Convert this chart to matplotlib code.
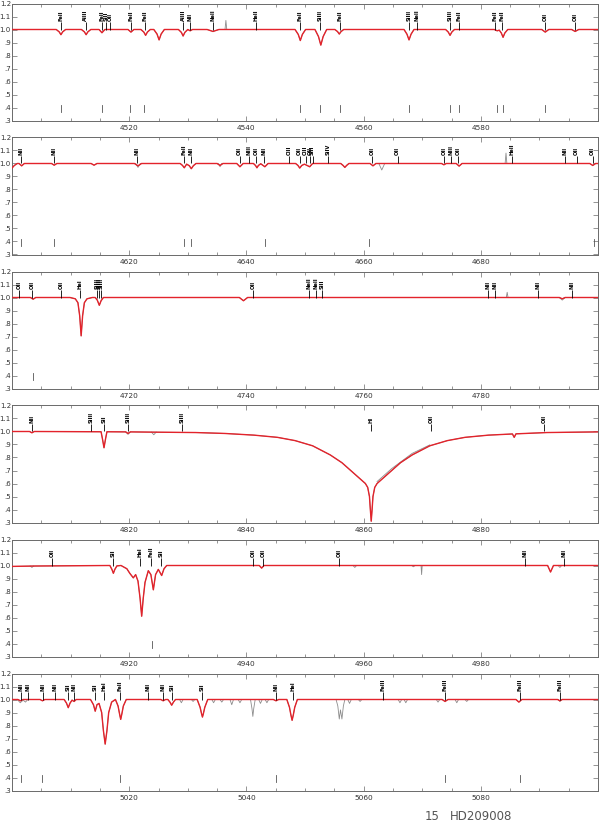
import numpy as np
import matplotlib
matplotlib.use('Agg')
import matplotlib.pyplot as plt
from matplotlib.ticker import MultipleLocator, FixedLocator, FixedFormatter

nan = np.nan

# ---------------- data ----------------
panel_ranges = [(4500, 4600), (4600, 4700), (4700, 4800),
                (4800, 4900), (4900, 5000), (5000, 5100)]

ytick_values = [0.3, 0.4, 0.5, 0.6, 0.7, 0.8, 0.9, 1.0, 1.1, 1.2]
ytick_labels = ['.3', '.4', '.5', '.6', '.7', '.8', '.9', '1.0', '1.1', '1.2']

# panel 1 : model spectrum (red)
p1_wave = [4500, 4507.55, 4508.05, 4508.35, 4508.65, 4509.15,
           4511.85, 4512.35, 4512.65, 4512.95, 4513.45,
           4514.85, 4515.35, 4515.85, 4519.8, 4520.3, 4520.8,
           4522.0, 4522.5, 4522.8, 4523.1, 4523.6,
           4524.2, 4524.75, 4525.1, 4525.45, 4526.0,
           4528.4, 4528.9, 4529.2, 4529.5, 4530.0, 4530.4, 4530.8,
           4533.3, 4534.3, 4535.3,
           4548.3, 4548.85, 4549.2, 4549.55, 4550.1,
           4551.7, 4552.3, 4552.7, 4553.1, 4553.7,
           4555.1, 4555.55, 4555.85, 4556.15, 4556.6,
           4566.9, 4567.4, 4567.75, 4568.1, 4568.6,
           4574.0, 4574.45, 4574.75, 4575.05, 4575.5,
           4582.3, 4582.8, 4583.15, 4583.5, 4583.8, 4584.1, 4584.6,
           4590.4, 4591.0, 4591.6, 4595.5, 4596.1, 4596.7, 4600]
p1_flux = [1.0, 1.0, 0.982, 0.96, 0.982, 1.0,
           1.0, 0.982, 0.96, 0.982, 1.0,
           1.0, 0.975, 1.0, 1.0, 0.98, 1.0,
           1.0, 0.98, 0.955, 0.98, 1.0,
           1.0, 0.965, 0.92, 0.965, 1.0,
           1.0, 0.978, 0.95, 0.978, 1.0, 0.99, 1.0,
           1.0, 0.985, 1.0,
           1.0, 0.962, 0.915, 0.962, 1.0,
           1.0, 0.946, 0.88, 0.946, 1.0,
           1.0, 0.984, 0.965, 0.984, 1.0,
           1.0, 0.964, 0.92, 0.964, 1.0,
           1.0, 0.98, 0.955, 0.98, 1.0,
           1.0, 0.99, 0.995, 0.973, 0.94, 0.973, 1.0,
           1.0, 0.98, 1.0, 1.0, 0.985, 1.0, 1.0]
# panel 1 : observed spectrum where it departs from the model (grey)
p1_obs_wave = [4536.35, 4536.5, 4536.65]
p1_obs_flux = [1.0, 1.07, 1.0]
p1_line_wave = [4508.29, 4512.57, 4515.34, 4516.0, 4516.7, 4520.23, 4522.63,
                4529.19, 4530.41, 4534.3, 4541.59, 4549.2, 4552.62, 4555.89,
                4567.82, 4569.1, 4574.76, 4576.33, 4582.5, 4583.6, 4590.97, 4596.1]
p1_line_name = ['FeII', 'AlIII', 'FeII', 'SIII', 'OII', 'FeII', 'FeII',
                'AlIII', 'NII', 'NeII', 'HeII', 'FeII', 'SiIII', 'FeII',
                'SiIII', 'NeII', 'SiIII', 'FeII', 'FeII', 'FeII', 'OII', 'OII']
p1_marks = [4508.3, 4515.3, 4520.2, 4522.6, 4549.2, 4552.6, 4555.9,
            4567.8, 4574.8, 4576.3, 4582.8, 4583.8, 4591.0]

# panel 2
p2_wave = [4600, 4600.4, 4600.9, 4601.2, 4601.65, 4602.1,
           4606.75, 4607.2, 4607.65, 4613.5, 4614.0, 4614.5,
           4620.9, 4621.5, 4622.1,
           4628.7, 4629.1, 4629.4, 4629.8, 4630.25, 4630.6, 4630.95, 4631.4,
           4635.0, 4635.5, 4636.0, 4638.35, 4638.9, 4639.45,
           4641.2, 4641.55, 4641.8, 4642.05, 4642.45, 4643.15, 4643.7,
           4648.4, 4648.8, 4649.1, 4649.45, 4649.9, 4650.8, 4651.3,
           4656.1, 4656.5, 4656.8, 4657.1, 4657.5,
           4661.1, 4661.6, 4662.1, 4673.3, 4673.7, 4674.1,
           4675.8, 4676.3, 4676.8, 4698.6, 4699.1, 4699.6, 4700]
p2_flux = [0.965, 0.985, 1.0, 1.0, 0.982, 1.0,
           1.0, 0.987, 1.0, 1.0, 0.987, 1.0,
           1.0, 0.982, 1.0,
           1.0, 0.985, 0.967, 0.995, 0.983, 0.96, 0.983, 1.0,
           1.0, 0.985, 1.0, 1.0, 0.975, 1.0,
           1.0, 0.985, 0.967, 0.985, 0.998, 0.975, 1.0,
           1.0, 0.985, 0.965, 0.985, 0.995, 0.975, 1.0,
           1.0, 0.985, 0.97, 0.985, 1.0,
           1.0, 0.982, 1.0, 1.0, 0.99, 1.0,
           1.0, 0.98, 1.0, 1.0, 0.985, 1.0, 1.0]
p2_obs_wave = [4621.1, 4621.5, 4621.9, nan, 4635.25, 4635.5, 4635.75, nan,
               4662.6, 4663.1, 4663.6, nan, 4684.15, 4684.3, 4684.45]
p2_obs_flux = [1.0, 0.97, 1.0, nan, 1.0, 0.975, 1.0, nan,
               1.0, 0.95, 1.0, nan, 1.0, 1.08, 1.0]
p2_line_wave = [4601.48, 4607.15, 4621.39, 4629.34, 4630.54, 4638.86, 4640.4,
                4641.6, 4643.0, 4647.3, 4649.1, 4650.1, 4650.9, 4651.3, 4654.0,
                4661.4, 4665.8, 4673.73, 4674.98, 4676.1, 4685.4, 4694.4,
                4696.35, 4699.1]
p2_line_name = ['NII', 'NII', 'NII', 'FeII', 'NII', 'OII', 'NIII',
                'OII', 'NII', 'CIII', 'OII', 'CIII', 'OII', 'SIII', 'SiIV',
                'OII', 'OII', 'OII', 'NIII', 'OII', 'HeII', 'NII',
                'OII', 'OII']
p2_marks = [4601.5, 4607.2, 4629.3, 4630.5, 4643.1, 4661.0, 4699.3]

# panel 3
p3_wave = [4700, 4703.15, 4703.6, 4704.05,
           4709.9, 4710.8, 4711.25, 4711.55, 4711.8, 4712.05, 4712.35, 4712.8, 4713.7,
           4714.2, 4714.55, 4714.9, 4715.2, 4715.6,
           4738.8, 4739.5, 4740.2, 4793.4, 4793.9, 4794.4, 4800]
p3_flux = [1.0, 1.0, 0.987, 1.0,
           1.0, 0.99, 0.96, 0.86, 0.705, 0.86, 0.96, 0.99, 1.0,
           1.0, 0.98, 0.94, 0.975, 1.0,
           1.0, 0.975, 1.0, 1.0, 0.99, 1.0, 1.0]
p3_obs_wave = [4784.35, 4784.5, 4784.65, nan, 4793.4, 4793.9, 4794.4]
p3_obs_flux = [1.0, 1.04, 1.0, nan, 1.0, 0.98, 1.0]
p3_line_wave = [4701.2, 4703.4, 4708.4, 4711.6, 4714.56, 4714.9, 4715.25, 4741.2,
                4750.68, 4751.83, 4752.85, 4781.18, 4782.42, 4789.7, 4795.5]
p3_line_name = ['OII', 'OII', 'OII', 'HeI', 'SiIII', 'SiIII', 'SiIII', 'OII',
                'NeII', 'NeII', 'SIII', 'NII', 'NII', 'NII', 'NII']
p3_marks = [4703.6]

# panel 4 (H-beta)
p4_wave = [4800, 4803.0, 4803.4, 4803.8, 4815.2, 4815.45, 4815.7, 4815.95, 4816.2,
           4819.4, 4819.8, 4820.2, 4824, 4831.3, 4836.3, 4841.3, 4845.3, 4848.3,
           4851.3, 4854.3, 4856.3, 4857.8, 4859.3, 4860.3, 4860.7, 4861.0, 4861.15,
           4861.3, 4861.45, 4861.6, 4861.9, 4862.3, 4863.3, 4864.8, 4866.3, 4868.3,
           4871.3, 4874.3, 4877.3, 4881.3, 4885.4, 4885.7, 4886.0, 4891.3, 4900]
p4_flux = [1.0, 1.0, 0.99, 1.0, 0.998, 0.94, 0.875, 0.94, 0.998,
           0.997, 0.985, 0.997, 0.995, 0.992, 0.985, 0.972, 0.955, 0.93,
           0.89, 0.82, 0.76, 0.70, 0.64, 0.60, 0.57, 0.50, 0.40,
           0.31, 0.40, 0.50, 0.57, 0.60, 0.64, 0.70, 0.76, 0.82,
           0.89, 0.93, 0.955, 0.972, 0.981, 0.955, 0.982, 0.992, 0.997]
p4_obs_wave = [4823.8, 4824.2, 4824.6, nan, 4819.4, 4819.8, 4820.2, nan,
               4862.3, 4864.8, 4868.3, 4871.3]
p4_obs_flux = [0.995, 0.975, 0.995, nan, 0.997, 0.978, 0.997, nan,
               0.615, 0.715, 0.832, 0.897]
p4_line_wave = [4803.36, 4813.43, 4815.7, 4819.85, 4828.96, 4861.26, 4871.5, 4890.8]
p4_line_name = ['NII', 'SiIII', 'SII', 'SiIII', 'SiIII', 'HI', 'OII', 'OII']
p4_marks = []

# panel 5
p5_wave = [4900, 4904, 4910, 4916.7, 4917.05, 4917.3, 4917.55, 4917.9,
           4918.6, 4919.6, 4920.1, 4920.7, 4921.1, 4921.5, 4921.85, 4922.13,
           4922.4, 4922.7, 4923.26, 4923.7, 4924.12, 4924.5, 4924.97, 4925.54,
           4925.94, 4926.4, 4942.2, 4942.6, 4943.0, 4991.4, 4991.9, 4992.4, 5000]
p5_flux = [0.993, 0.996, 0.998, 1.0, 0.97, 0.94, 0.97, 0.997,
           1.0, 0.975, 0.94, 0.905, 0.93, 0.88, 0.75, 0.61,
           0.75, 0.87, 0.96, 0.93, 0.813, 0.93, 0.97, 0.923,
           0.975, 1.0, 1.0, 0.98, 1.0, 1.0, 0.95, 1.0, 1.0]
p5_obs_wave = [4903.1, 4903.4, 4903.7, nan, 4958.2, 4958.5, 4958.8, nan,
               4968.2, 4968.5, 4968.8, nan, 4969.8, 4969.9, 4970.0, nan,
               4993.2, 4993.5, 4993.8]
p5_obs_flux = [0.996, 0.985, 0.996, nan, 1.0, 0.985, 1.0, nan,
               1.0, 0.99, 1.0, nan, 1.0, 0.93, 1.0, nan,
               1.0, 0.985, 1.0]
p5_line_wave = [4906.9, 4917.2, 4921.8, 4923.8, 4925.4, 4941.2, 4942.9,
                4955.8, 4987.5, 4994.25]
p5_line_name = ['OII', 'SII', 'HeI', 'FeII', 'SII', 'OII', 'OII',
                'OII', 'NII', 'NII']
p5_marks = [4923.9]

# panel 6
p6_wave = [5000, 5001.0, 5001.45, 5001.9, 5004.8, 5005.2, 5005.6,
           5008.9, 5009.3, 5009.6, 5009.9, 5010.25, 5010.6, 5010.95,
           5013.4, 5013.9, 5014.2, 5014.5, 5014.85, 5015.3, 5015.6, 5015.9,
           5016.2, 5016.5, 5017.0, 5017.65, 5018.1, 5018.35, 5018.55, 5018.75,
           5019.0, 5019.5, 5025.4, 5025.8, 5026.2, 5026.6, 5026.95, 5027.25,
           5027.55, 5027.9, 5031.6, 5032.1, 5032.35, 5032.5, 5032.65, 5032.9,
           5033.4, 5044.6, 5045.05, 5045.5, 5046.9, 5047.35, 5047.6, 5047.8,
           5048.0, 5048.25, 5048.7, 5073.4, 5073.9, 5074.4, 5086.0, 5086.5,
           5087.0, 5093.1, 5093.5, 5093.9, 5100]
p6_flux = [1.0, 1.0, 0.99, 1.0, 1.0, 0.99, 1.0,
           1.0, 0.972, 0.937, 0.972, 0.995, 0.985, 1.0,
           1.0, 0.96, 0.91, 0.96, 0.97, 0.9, 0.76, 0.657,
           0.76, 0.9, 0.98, 1.0, 0.95, 0.89, 0.847, 0.89,
           0.95, 1.0, 1.0, 0.99, 1.0, 1.0, 0.98, 0.956,
           0.98, 1.0, 1.0, 0.94, 0.89, 0.865, 0.89, 0.94,
           1.0, 1.0, 0.99, 1.0, 1.0, 0.94, 0.88, 0.84,
           0.88, 0.94, 1.0, 1.0, 0.985, 1.0, 1.0, 0.98,
           1.0, 1.0, 0.99, 1.0, 1.0]
p6_obs_wave = [5000.9, 5001.4, 5001.9, 5002.3, 5002.7, nan,
               5028.6, 5028.9, 5029.2, nan, 5030.6, 5030.9, 5031.2, nan,
               5034.1, 5034.4, 5034.7, 5035.5, 5035.8, 5036.1, nan,
               5037.2, 5037.5, 5037.8, 5038.6, 5038.9, 5039.2, nan,
               5040.7, 5040.95, 5041.1, 5041.25, 5041.5, nan,
               5042.1, 5042.4, 5042.7, 5043.2, 5043.5, 5043.8, nan,
               5055.3, 5055.6, 5055.85, 5056.05, 5056.3, 5056.55, 5056.8, nan,
               5057.3, 5057.6, 5057.9, nan, 5059.1, 5059.4, 5059.7, nan,
               5065.9, 5066.2, 5066.5, 5066.9, 5067.2, 5067.5, nan,
               5072.4, 5072.7, 5073.0, nan, 5075.6, 5075.9, 5076.2, nan,
               5077.3, 5077.6, 5077.9, nan, 5093.2, 5093.5, 5093.8]
p6_obs_flux = [1.0, 0.975, 0.995, 0.98, 1.0, nan,
               1.0, 0.975, 1.0, nan, 1.0, 0.985, 1.0, nan,
               1.0, 0.975, 1.0, 1.0, 0.98, 1.0, nan,
               1.0, 0.96, 1.0, 1.0, 0.975, 1.0, nan,
               1.0, 0.93, 0.87, 0.93, 1.0, nan,
               1.0, 0.97, 1.0, 1.0, 0.975, 1.0, nan,
               1.0, 0.95, 0.85, 0.92, 0.85, 0.95, 1.0, nan,
               1.0, 0.97, 1.0, nan, 1.0, 0.985, 1.0, nan,
               1.0, 0.975, 1.0, 1.0, 0.975, 1.0, nan,
               1.0, 0.98, 1.0, nan, 1.0, 0.975, 1.0, nan,
               1.0, 0.985, 1.0, nan, 1.0, 0.985, 1.0]
p6_line_wave = [5001.48, 5002.78, 5005.24, 5007.34, 5009.6, 5010.58, 5014.16,
                5015.75, 5018.43, 5023.16, 5025.72, 5027.25, 5032.47, 5045.05,
                5047.9, 5063.36, 5073.9, 5086.7, 5093.6]
p6_line_name = ['NII', 'NII', 'NII', 'NII', 'SII', 'NII', 'SII',
                'HeI', 'FeII', 'NII', 'NII', 'SII', 'SII', 'NII',
                'HeI', 'FeIII', 'FeIII', 'FeIII', 'FeIII']
p6_marks = [5001.5, 5005.1, 5018.4, 5045.05, 5073.9, 5086.7]

panels = [
    (p1_wave, p1_flux, p1_obs_wave, p1_obs_flux, p1_line_wave, p1_line_name, p1_marks),
    (p2_wave, p2_flux, p2_obs_wave, p2_obs_flux, p2_line_wave, p2_line_name, p2_marks),
    (p3_wave, p3_flux, p3_obs_wave, p3_obs_flux, p3_line_wave, p3_line_name, p3_marks),
    (p4_wave, p4_flux, p4_obs_wave, p4_obs_flux, p4_line_wave, p4_line_name, p4_marks),
    (p5_wave, p5_flux, p5_obs_wave, p5_obs_flux, p5_line_wave, p5_line_name, p5_marks),
    (p6_wave, p6_flux, p6_obs_wave, p6_obs_flux, p6_line_wave, p6_line_name, p6_marks),
]

# ---------------- figure ----------------
W, H = 600, 826
fig = plt.figure(figsize=(W / 100, H / 100), dpi=100)
fig.patch.set_facecolor('white')

RED = '#e3232b'
GREY = '#8c8c8c'
FRAME = '#6a6a6a'
TXT = '#333333'

for i, (pw, pf, ow, of, lw_, ln_, mk) in enumerate(panels):
    top = 3.5 + 134 * i
    ax = fig.add_axes([12 / W, 1 - (top + 117) / H, 586 / W, 117 / H])
    x0, x1 = panel_ranges[i]

    # observed (grey) underneath the model
    ax.plot(pw, pf, color=GREY, lw=0.6, zorder=2)
    ax.plot(ow, of, color=GREY, lw=0.6, zorder=2)
    ax.plot(pw, pf, color=RED, lw=1.0, zorder=3)

    for lam, name in zip(lw_, ln_):
        if x0 <= lam <= x1:
            ax.plot([lam, lam], [1.0, 1.058], color='black', lw=0.6, zorder=4,
                    solid_capstyle='butt')
            ax.text(lam, 1.062, name, rotation=90, ha='center', va='bottom',
                    fontsize=3.7, fontweight='bold', color='black', zorder=5,
                    family='DejaVu Sans')
    for lam in mk:
        ax.plot([lam, lam], [0.362, 0.418], color='#555555', lw=0.6, zorder=4)

    ax.set_xlim(x0, x1)
    ax.set_ylim(0.3, 1.2)
    ax.xaxis.set_major_locator(MultipleLocator(20))
    ax.xaxis.set_minor_locator(MultipleLocator(5))
    ax.yaxis.set_major_locator(FixedLocator(ytick_values))
    ax.yaxis.set_major_formatter(FixedFormatter(ytick_labels))
    xt = [v for v in range(x0 + 20, x1, 20)]
    ax.set_xticks(xt)
    ax.set_xticklabels([str(v) for v in xt])
    ax.tick_params(axis='both', which='major', direction='in', length=3.5,
                   width=0.5, color=FRAME, top=True, right=True,
                   labelsize=5.3, labelcolor=TXT)
    ax.tick_params(axis='x', which='minor', direction='in', length=2,
                   width=0.5, color=FRAME, top=True, bottom=True)
    ax.tick_params(axis='y', which='major', pad=0.8, labelsize=5.0)
    ax.tick_params(axis='x', which='major', pad=3)
    for s in ax.spines.values():
        s.set_color(FRAME)
        s.set_linewidth(0.7)

fig.text(425 / W, 1 - 816 / H, '15', fontsize=8.5, color='#555555',
         ha='left', va='center')
fig.text(450 / W, 1 - 816 / H, 'HD209008', fontsize=8.5, color='#555555',
         ha='left', va='center')

fig.savefig('out.png', dpi=100)
